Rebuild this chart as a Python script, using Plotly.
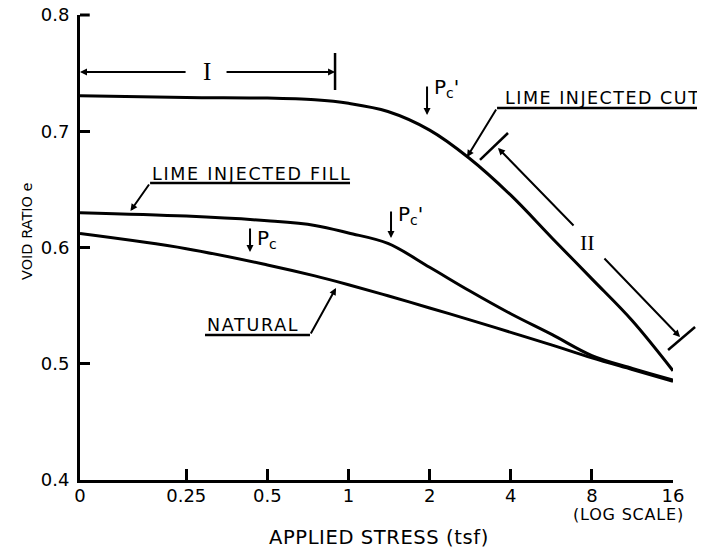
import math
import plotly.graph_objects as go

# ---------------- data ----------------
stress_tsf = [0, 0.25, 0.5, 0.75, 1, 1.4, 2, 2.8, 4, 5.7, 8, 11.3, 16]
e_lime_cut = [0.7305, 0.729, 0.7285, 0.727, 0.724, 0.717, 0.701, 0.677, 0.645, 0.608, 0.573, 0.537, 0.494]
e_lime_fill = [0.630, 0.627, 0.623, 0.619, 0.6125, 0.6035, 0.583, 0.563, 0.543, 0.525, 0.507, 0.496, 0.486]
e_natural = [0.612, 0.599, 0.585, 0.5756, 0.568, 0.5585, 0.548, 0.538, 0.527, 0.516, 0.505, 0.495, 0.485]

x_tick_stress = [0, 0.25, 0.5, 1, 2, 4, 8, 16]
x_tick_text = ["0", "0.25", "0.5", "1", "2", "4", "8", "16"]
y_tick_vals = [0.4, 0.5, 0.6, 0.7, 0.8]
y_tick_text = ["0.4", "0.5", "0.6", "0.7", "0.8"]

ZERO_POS = -3.31          # where the schematic "0" sits on the log2 axis
X_RANGE = [ZERO_POS, 4.0]
Y_RANGE = [0.4, 0.8]
W_PX, H_PX = 593, 465     # plot area size
OFF = 8                   # page body margin of the html


def xpos(s):
    return ZERO_POS if s == 0 else math.log2(s)


def PX(p):
    return (p - X_RANGE[0]) / (X_RANGE[1] - X_RANGE[0])


def PY(e):
    return (e - Y_RANGE[0]) / (Y_RANGE[1] - Y_RANGE[0])


FONT = "DejaVu Sans"
BLACK = "#000000"


def spaced(t, px):
    return '<span style="letter-spacing:%.1fpx">%s</span>' % (px, t)


fig = go.Figure()
xs = [xpos(s) for s in stress_tsf]
for name, ys in [("LIME INJECTED CUT", e_lime_cut),
                 ("LIME INJECTED FILL", e_lime_fill),
                 ("NATURAL", e_natural)]:
    fig.add_trace(go.Scatter(x=xs, y=ys, mode="lines", name=name,
                             line=dict(color=BLACK, width=3, shape="spline", smoothing=1.0),
                             showlegend=False, hoverinfo="skip"))

shapes = []
annotations = []


def seg(p0, e0, p1, e1, w=2.5):
    shapes.append(dict(type="line", xref="paper", yref="paper",
                       x0=PX(p0), y0=PY(e0), x1=PX(p1), y1=PY(e1),
                       line=dict(color=BLACK, width=w)))


def arrow(tip_p, tip_e, tail_p, tail_e, w=2):
    annotations.append(dict(
        x=PX(tip_p), y=PY(tip_e), xref="paper", yref="paper",
        ax=(tail_p - tip_p) * W_PX / (X_RANGE[1] - X_RANGE[0]),
        ay=-(tail_e - tip_e) * H_PX / (Y_RANGE[1] - Y_RANGE[0]),
        text="", showarrow=True, arrowhead=2, arrowsize=0.7, arrowwidth=w,
        arrowcolor=BLACK, standoff=0, startstandoff=0))


def label(p, e, text, size=17, family=FONT, xanchor="center", yanchor="middle"):
    annotations.append(dict(x=PX(p), y=PY(e), xref="paper", yref="paper",
                            text=text, showarrow=False, xanchor=xanchor, yanchor=yanchor,
                            font=dict(family=family, size=size, color=BLACK)))


def page_label(x_px, y_px, text, size, angle=0):
    # position given in page pixels of the reference picture
    annotations.append(dict(x=(x_px - 80) / W_PX, y=(480 - y_px) / H_PX,
                            xref="paper", yref="paper", text=text, textangle=angle,
                            showarrow=False, xanchor="center", yanchor="middle",
                            font=dict(family=FONT, size=size, color=BLACK)))


# zone I dimension line
arrow(ZERO_POS, 0.751, -1.99, 0.751)
arrow(-0.166, 0.751, -1.522, 0.751)
seg(-0.166, 0.7673, -0.166, 0.7355)
label(-1.744, 0.751, "I", size=25, family="Liberation Serif")

# top tick of the y axis (hooked to the right, as drawn)
seg(ZERO_POS, Y_RANGE[1], ZERO_POS + 0.12, Y_RANGE[1], w=3)

# lime injected fill label
label(-1.199, 0.6632, spaced("LIME INJECTED FILL", 1.7), size=17.5)
seg(-2.446, 0.6555, 0.0185, 0.6555)
arrow(-2.688, 0.6314, -2.446, 0.6555)

# lime injected cut label
label(3.125, 0.7286, spaced("LIME INJECTED CUT", 1.5), size=17.5)
seg(1.831, 0.720, 4.333, 0.720)
arrow(1.461, 0.6778, 1.831, 0.720)

# natural label
label(-1.18, 0.5333, spaced("NATURAL", 1.7), size=17.5)
seg(-1.769, 0.5247, -0.475, 0.5247)
arrow(-0.154, 0.5652, -0.475, 0.5247)

# preconsolidation pressure markers
arrow(-1.214, 0.5961, -1.214, 0.6176)
label(-1.15, 0.607, "P<sub>c</sub>", size=20, xanchor="left")
arrow(0.968, 0.714, 0.968, 0.7398)
label(1.029, 0.737, "P<sub>c</sub>'", size=20, xanchor="left")
arrow(0.524, 0.6082, 0.524, 0.6323)
label(0.586, 0.628, "P<sub>c</sub>'", size=20, xanchor="left")

# zone II dimension line
arrow(1.843, 0.6856, 2.792, 0.6176)
arrow(4.087, 0.523, 3.137, 0.5918)
seg(1.621, 0.6753, 1.966, 0.6985)
seg(3.939, 0.5118, 4.272, 0.5316)
label(2.952, 0.6039, "II", size=22, family="Liberation Serif")

# axis titles and note
page_label(27, 231, "VOID RATIO e", 14.5, angle=-90)
page_label(379, 537, spaced("APPLIED STRESS (tsf)", 0.6), 19.5)
page_label(628, 514, spaced("(LOG SCALE)", 0.8), 16)

fig.update_layout(
    width=705 - OFF, height=553 - OFF,
    margin=dict(l=80 - OFF, r=32, t=15 - OFF, b=73, autoexpand=False),
    paper_bgcolor="white", plot_bgcolor="white",
    shapes=shapes, annotations=annotations,
    xaxis=dict(range=X_RANGE, tickmode="array", automargin=False,
               tickvals=[xpos(s) for s in x_tick_stress], ticktext=x_tick_text,
               ticklabeloverflow="allow", ticklabelstandoff=-3,
               showgrid=False, zeroline=False, showline=True, linecolor=BLACK, linewidth=3,
               ticks="inside", ticklen=11, tickwidth=2.5, tickcolor=BLACK,
               tickfont=dict(family=FONT, size=18, color=BLACK)),
    yaxis=dict(range=Y_RANGE, tickmode="array", tickvals=y_tick_vals, ticktext=y_tick_text,
               automargin=False, ticklabeloverflow="allow",
               showgrid=False, zeroline=False, showline=True, linecolor=BLACK, linewidth=3,
               ticks="inside", ticklen=10, tickwidth=2.5, tickcolor=BLACK,
               ticklabelstandoff=4,
               tickfont=dict(family=FONT, size=18, color=BLACK)),
)

fig.write_html("out.html")
